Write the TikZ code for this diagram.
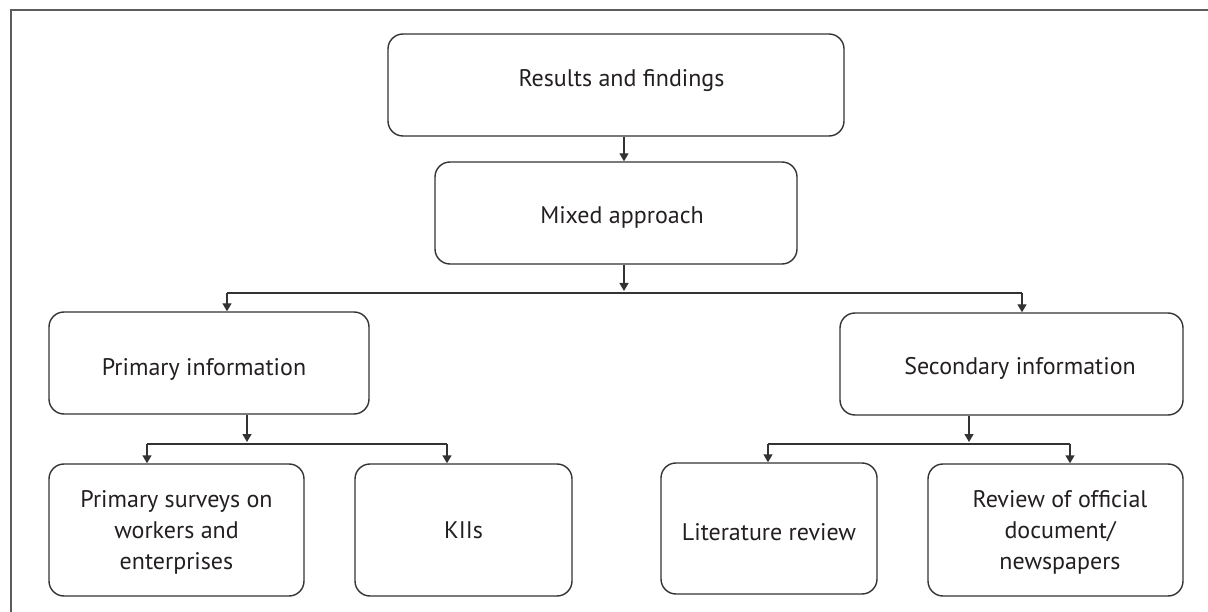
\documentclass[tikz,border=0pt]{standalone}
\usepackage{fontspec}
\setmainfont{PT Sans}
\usetikzlibrary{arrows.meta}
\definecolor{ln}{HTML}{333333}
\definecolor{tx}{HTML}{231F20}
\tikzset{
  box/.style={draw=ln, line width=1.4pt, rounded corners=15pt, inner sep=0pt},
  lbl/.style={text=tx, font=\fontsize{24}{31}\selectfont, inner sep=0pt, align=center, anchor=base},
  arr/.style={draw=ln, line width=1.4pt, -{Triangle[length=8pt,width=9pt]}},
  ln/.style={draw=ln, line width=1.4pt},
}
\begin{document}
\begin{tikzpicture}[x=1pt,y=-1pt]
\useasboundingbox (0,0) rectangle (1208,612);
\draw[draw=ln!80, line width=1.6pt] (11,612) -- (11,10) -- (1208,10);

\node[box, minimum width=456pt, minimum height=102pt] (res) at (616,85) {};
\node[box, minimum width=362pt, minimum height=102pt] (mix) at (616,213) {};
\node[box, minimum width=320pt, minimum height=102pt] (pri) at (209,363) {};
\node[box, minimum width=343pt, minimum height=102pt] (sec) at (1011.5,364) {};
\node[box, minimum width=255pt, minimum height=132pt] (sur) at (176.5,530) {};
\node[box, minimum width=217pt, minimum height=132pt] (kii) at (463.5,530) {};
\node[box, minimum width=216pt, minimum height=131pt] (lit) at (769,528.5) {};
\node[box, minimum width=255pt, minimum height=132pt] (rev) at (1055.5,530) {};

\node[lbl] (tres) at (621.5,87) {Results and findings};
\node[lbl] (tmix) at (622,224) {Mixed approach};
\node[lbl] (tpri) at (204,375) {Primary information};
\node[lbl] (tsec) at (1020,374) {Secondary information};
\node[lbl] (tsur) at (176.5,569) {Primary surveys on\\workers and\\enterprises};
\node[lbl] (tkii) at (463.5,538) {KIIs};
\node[lbl] (tlit) at (769,540) {Literature review};
\node[lbl] (trev) at (1060,569) {Review of official\\document/\\newspapers};

% junction coordinates
\coordinate (a1) at (624,0);
\coordinate (t1) at (624,291);
\coordinate (b1) at (247,0);
\coordinate (t2) at (247,442);
\coordinate (b2) at (969,0);
\coordinate (t3) at (969,442);
\coordinate (pL) at (227,293);
\coordinate (sR) at (1022,293);
\coordinate (cL) at (147,444);
\coordinate (cR) at (447,444);
\coordinate (dL) at (768,444);
\coordinate (dR) at (1070,444);

\draw[arr] (res.south -| a1) -- (mix.north -| a1);
\draw[arr] (mix.south -| a1) -- (t1);
\draw[ln] (pL) -- (sR);
\draw[arr] (pL) -- (pri.north -| pL);
\draw[arr] (sR) -- (sec.north -| sR);

\draw[arr] (pri.south -| b1) -- (t2);
\draw[ln] (cL) -- (cR);
\draw[arr] (cL) -- (sur.north -| cL);
\draw[arr] (cR) -- (kii.north -| cR);

\draw[arr] (sec.south -| b2) -- (t3);
\draw[ln] (dL) -- (dR);
\draw[arr] (dL) -- (lit.north -| dL);
\draw[arr] (dR) -- (rev.north -| dR);
\end{tikzpicture}
\end{document}
